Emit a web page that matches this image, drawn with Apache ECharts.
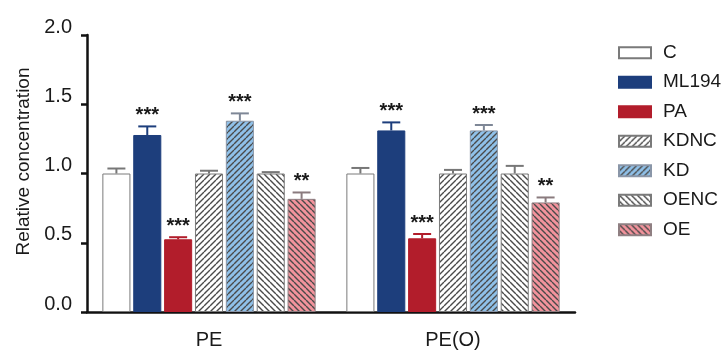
<!DOCTYPE html>
<html><head><meta charset="utf-8">
<script src="https://cdn.jsdelivr.net/npm/echarts@6/dist/echarts.min.js"></script>
<style>html,body{margin:0;padding:0;background:#fff}#c{width:721px;height:350px}</style>
</head><body><div id="c"></div>
<script>
// ---- data ----
const categories = ['PE', 'PE(O)'];
const seriesNames = ['C', 'ML194', 'PA', 'KDNC', 'KD', 'OENC', 'OE'];
const valC     = [1.00, 1.00];
const valML194 = [1.278, 1.311];
const valPA    = [0.525, 0.532];
const valKDNC  = [1.00, 1.00];
const valKD    = [1.381, 1.311];
const valOENC  = [1.00, 1.00];
const valOE    = [0.817, 0.791];
const errC     = [0.036, 0.04];
const errML194 = [0.062, 0.058];
const errPA    = [0.015, 0.031];
const errKDNC  = [0.02, 0.026];
const errKD    = [0.053, 0.039];
const errOENC  = [0.01, 0.055];
const errOE    = [0.046, 0.036];
const sigML194 = ['***', '***'];
const sigPA    = ['***', '***'];
const sigKD    = ['***', '***'];
const sigOE    = ['**', '**'];
const yTicks = ['0.0', '0.5', '1.0', '1.5', '2.0'];

const values = [valC, valML194, valPA, valKDNC, valKD, valOENC, valOE];
const errors = [errC, errML194, errPA, errKDNC, errKD, errOENC, errOE];
const sigs = [null, sigML194, sigPA, null, sigKD, null, sigOE];

// ---- styles ----
function stripes(bg, dir) {
  const s = 6;
  const cv = document.createElement('canvas');
  cv.width = s; cv.height = s;
  const g = cv.getContext('2d');
  g.fillStyle = bg; g.fillRect(0, 0, s, s);
  g.strokeStyle = '#4a4a4a'; g.lineWidth = 1.4;
  g.beginPath();
  for (let k = -1; k <= 1; k++) {
    if (dir > 0) { g.moveTo(k * s, s); g.lineTo(k * s + s, 0); }
    else { g.moveTo(k * s, 0); g.lineTo(k * s + s, s); }
  }
  g.stroke();
  return { image: cv, repeat: 'repeat' };
}
const fills = ['#ffffff', '#1d3e7c', '#b21d2b', stripes('#ffffff', 1), stripes('#8fc0e8', 1), stripes('#ffffff', -1), stripes('#f2939c', -1)];
const borders = ['#7a7a7a', '#1d3e7c', '#b21d2b', '#7a7a7a', '#8a96a8', '#7a7a7a', '#8f7f82'];
const errColors = ['#777777', '#1d3e7c', '#b21d2b', '#777777', '#7e8796', '#777777', '#8a7b7e'];

const BW = 0.115, GAP = 0.10;
const font = 'Liberation Sans, Arial, sans-serif';

const series = [];
seriesNames.forEach((n, i) => {
  series.push({
    name: n, type: 'bar', data: values[i],
    barWidth: (BW * 100) + '%', barGap: (GAP * 100) + '%',
    itemStyle: { color: fills[i], borderColor: borders[i], borderWidth: 1 },
    z: 2
  });
});
seriesNames.forEach((n, i) => {
  series.push({
    type: 'custom', name: n + '_err', z: 3,
    data: categories.map((c, k) => [k, values[i][k], values[i][k] + errors[i][k], sigs[i] ? sigs[i][k] : '']),
    renderItem: function (params, api) {
      const bandW = api.size([1, 0])[0];
      const bw = bandW * BW;
      const pitch = bw * (1 + GAP);
      const cx = api.coord([api.value(0), 0])[0] + (i - 3) * pitch;
      const yTop = api.coord([api.value(0), api.value(1)])[1];
      const yErr = api.coord([api.value(0), api.value(2)])[1];
      const cap = 9;
      const children = [
        { type: 'line', shape: { x1: cx, y1: yTop, x2: cx, y2: yErr }, style: { stroke: errColors[i], lineWidth: 2 } },
        { type: 'line', shape: { x1: cx - cap, y1: yErr, x2: cx + cap, y2: yErr }, style: { stroke: errColors[i], lineWidth: 2 } }
      ];
      const sig = sigs[i] ? sigs[i][api.value(0)] : '';
      if (sig) {
        children.push({ type: 'text', style: { text: sig, x: cx, y: yErr - 1, align: 'center', verticalAlign: 'bottom', font: 'bold 20px ' + font, fill: '#1a1a1a' } });
      }
      return { type: 'group', children: children };
    }
  });
});

const chart = echarts.init(document.getElementById('c'), null, { renderer: 'canvas' });
chart.setOption({
  animation: false,
  backgroundColor: '#ffffff',
  grid: { left: 87, right: 146, top: 35, bottom: 37, containLabel: false },
  legend: {
    data: seriesNames, orient: 'vertical', left: 613, top: 37,
    icon: 'rect', itemWidth: 32, itemHeight: 11, itemGap: 8,
    textStyle: { fontSize: 19, lineHeight: 21.5, fontFamily: font, color: '#1a1a1a', padding: [0, 0, 0, 7] },
    selectedMode: false
  },
  xAxis: {
    type: 'category', data: categories,
    axisLine: { lineStyle: { color: '#111', width: 2.5 } },
    axisTick: { alignWithLabel: true, length: 8, lineStyle: { color: '#111', width: 3 } },
    axisLabel: { fontSize: 20, fontFamily: font, color: '#1a1a1a', margin: 18 }
  },
  yAxis: {
    type: 'value', min: 0, max: 2, interval: 0.5,
    name: 'Relative concentration', nameLocation: 'middle', nameGap: 54,
    nameTextStyle: { fontSize: 19, fontFamily: font, color: '#1a1a1a', padding: [0, 0, 0, 24] },
    axisLine: { show: true, lineStyle: { color: '#111', width: 2.5 } },
    axisTick: { show: true, length: 6, lineStyle: { color: '#111', width: 2.5 } },
    splitLine: { show: false },
    axisLabel: { fontSize: 20, fontFamily: font, color: '#1a1a1a', margin: 15,
      verticalAlign: 'bottom', lineHeight: 16,
      formatter: v => yTicks[Math.round(v / 0.5)] }
  },
  series: series
});
</script></body></html>
